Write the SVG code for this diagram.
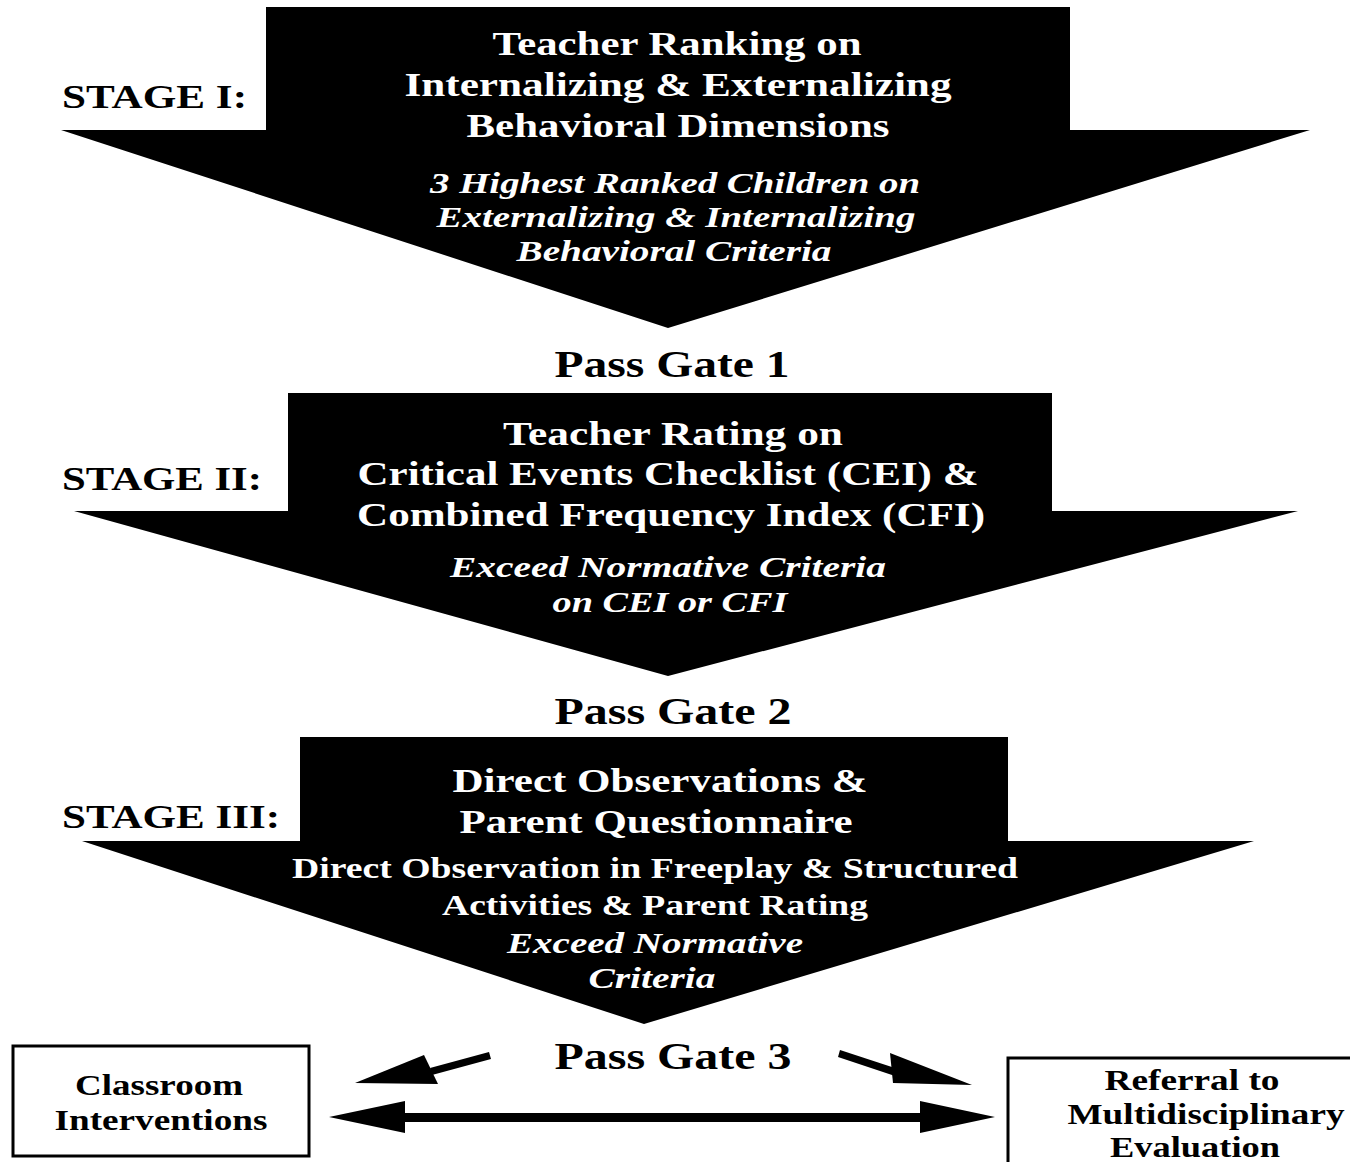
<svg xmlns="http://www.w3.org/2000/svg" width="1350" height="1162" viewBox="0 0 1350 1162">
<style>
.b{font-family:"Liberation Serif","Times New Roman",serif;font-weight:bold;fill:#fff;text-anchor:middle}
.i{font-family:"Liberation Serif","Times New Roman",serif;font-weight:bold;font-style:italic;fill:#fff;text-anchor:middle}
.k{font-family:"Liberation Serif","Times New Roman",serif;font-weight:bold;fill:#000;text-anchor:middle}
.s{font-family:"Liberation Serif","Times New Roman",serif;font-weight:bold;fill:#000;text-anchor:start}
.box{fill:#fff;stroke:#000;stroke-width:3}
</style>
<rect width="1350" height="1162" fill="#fff"/>
<g id="stage1">
<polygon points="266,7 1070,7 1070,130 1310,130 668,328 61,130 266,130" fill="#000"/>
<text class="s" x="62" y="108" font-size="34" textLength="185" lengthAdjust="spacingAndGlyphs">STAGE I:</text>
<text class="b" x="677" y="55" font-size="34" textLength="369" lengthAdjust="spacingAndGlyphs">Teacher Ranking on</text>
<text class="b" x="678" y="96" font-size="34" textLength="547" lengthAdjust="spacingAndGlyphs">Internalizing &amp; Externalizing</text>
<text class="b" x="678" y="137" font-size="34" textLength="423" lengthAdjust="spacingAndGlyphs">Behavioral Dimensions</text>
<text class="i" x="675" y="193" font-size="29" textLength="490" lengthAdjust="spacingAndGlyphs">3 Highest Ranked Children on</text>
<text class="i" x="676" y="227" font-size="29" textLength="479" lengthAdjust="spacingAndGlyphs">Externalizing &amp; Internalizing</text>
<text class="i" x="674" y="261" font-size="29" textLength="315" lengthAdjust="spacingAndGlyphs">Behavioral Criteria</text>
</g>
<g id="gate1"><text class="k" x="672" y="377" font-size="37" textLength="235" lengthAdjust="spacingAndGlyphs">Pass Gate 1</text></g>
<g id="stage2">
<polygon points="288,393 1052,393 1052,511 1298,511 668,676 74,511 288,511" fill="#000"/>
<text class="s" x="62" y="490" font-size="34" textLength="200" lengthAdjust="spacingAndGlyphs">STAGE II:</text>
<text class="b" x="673" y="445" font-size="34" textLength="340" lengthAdjust="spacingAndGlyphs">Teacher Rating on</text>
<text class="b" x="668" y="485" font-size="34" textLength="621" lengthAdjust="spacingAndGlyphs">Critical Events Checklist (CEI) &amp;</text>
<text class="b" x="671" y="526" font-size="34" textLength="628" lengthAdjust="spacingAndGlyphs">Combined Frequency Index (CFI)</text>
<text class="i" x="668" y="577" font-size="29" textLength="436" lengthAdjust="spacingAndGlyphs">Exceed Normative Criteria</text>
<text class="i" x="670" y="612" font-size="29" textLength="235" lengthAdjust="spacingAndGlyphs">on CEI or CFI</text>
</g>
<g id="gate2"><text class="k" x="673" y="724" font-size="37" textLength="237" lengthAdjust="spacingAndGlyphs">Pass Gate 2</text></g>
<g id="stage3">
<polygon points="300,737 1008,737 1008,841 1254,841 644,1024 82,841 300,841" fill="#000"/>
<text class="s" x="62" y="828" font-size="34" textLength="218" lengthAdjust="spacingAndGlyphs">STAGE III:</text>
<text class="b" x="660" y="792" font-size="34" textLength="415" lengthAdjust="spacingAndGlyphs">Direct Observations &amp;</text>
<text class="b" x="656" y="833" font-size="34" textLength="393" lengthAdjust="spacingAndGlyphs">Parent Questionnaire</text>
<text class="b" x="655" y="878" font-size="29" textLength="726" lengthAdjust="spacingAndGlyphs">Direct Observation in Freeplay &amp; Structured</text>
<text class="b" x="655" y="915" font-size="29" textLength="426" lengthAdjust="spacingAndGlyphs">Activities &amp; Parent Rating</text>
<text class="i" x="655" y="953" font-size="29" textLength="296" lengthAdjust="spacingAndGlyphs">Exceed Normative</text>
<text class="i" x="652" y="988" font-size="29" textLength="127" lengthAdjust="spacingAndGlyphs">Criteria</text>
</g>
<g id="gate3"><text class="k" x="673" y="1069" font-size="37" textLength="237" lengthAdjust="spacingAndGlyphs">Pass Gate 3</text></g>
<g id="classroom">
<rect class="box" x="13" y="1046" width="296" height="110"/>
<text class="k" x="159" y="1095" font-size="29" textLength="168" lengthAdjust="spacingAndGlyphs">Classroom</text>
<text class="k" x="161" y="1130" font-size="29" textLength="213" lengthAdjust="spacingAndGlyphs">Interventions</text>
</g>
<g id="referral">
<rect class="box" x="1008" y="1058" width="360" height="120"/>
<text class="k" x="1192" y="1090" font-size="29" textLength="175" lengthAdjust="spacingAndGlyphs">Referral to</text>
<text class="k" x="1206" y="1124" font-size="29" textLength="277" lengthAdjust="spacingAndGlyphs">Multidisciplinary</text>
<text class="k" x="1195" y="1157" font-size="29" textLength="170" lengthAdjust="spacingAndGlyphs">Evaluation</text>
</g>
<g id="connectors" fill="#000" stroke="none">
<polygon points="489,1052 491,1059 432,1075 430,1068"/>
<polygon points="355,1083 424,1055 438,1084"/>
<polygon points="840,1050 838,1057 898,1077 901,1070"/>
<polygon points="972,1085 890,1053 893,1083"/>
<rect x="400" y="1113" width="525" height="9"/>
<polygon points="329,1117 405,1101 405,1133"/>
<polygon points="995,1117 920,1101 920,1133"/>
</g>
</svg>
